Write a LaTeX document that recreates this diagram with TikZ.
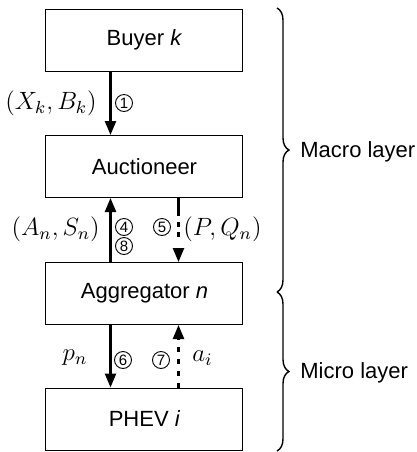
\RequirePackage{fix-cm}
\documentclass[tikz,border=0pt]{standalone}
\usepackage{fontspec}
\setsansfont{Liberation Sans}
\usetikzlibrary{arrows.meta,decorations.pathreplacing}
\tikzset{
  box/.style={draw,line width=0.5pt,minimum width=98.5pt,minimum height=31pt,inner sep=0pt,font=\sffamily\fontsize{11}{13}\selectfont},
  arr/.style={line width=1.2pt,-{Triangle[length=7pt,width=5.5pt]}},
  num/.style={circle,draw,line width=0.45pt,inner sep=0pt,minimum size=8.5pt,font=\sffamily\fontsize{7.5}{8}\selectfont},
  mlab/.style={font=\fontsize{12.5}{15}\selectfont,inner sep=0pt},
  layer/.style={font=\sffamily\fontsize{11}{13}\selectfont,anchor=west,inner sep=0pt},
  brc/.style={decorate,decoration={brace,amplitude=6pt},line width=0.7pt}
}
\begin{document}
\begin{tikzpicture}[x=0.5pt,y=-0.5pt]
\useasboundingbox (0,0) rectangle (417,452);
\node[box] (buyer) at (144.5,40) {Buyer \textit{k}};
\node[box] (auct) at (144.5,166.5) {Auctioneer};
\node[box] (agg) at (144.5,293.5) {Aggregator \textit{n}};
\node[box] (phev) at (144.5,419) {PHEV \textit{i}};

\draw[arr] ([xshift=-17pt]buyer.south) -- ([xshift=-17pt]auct.north);
\draw[arr] ([xshift=-17pt]agg.north) -- ([xshift=-17pt]auct.south);
\draw[arr,dash pattern=on 9pt off 3pt on 2.5pt off 2.5pt on 2.5pt off 20pt] ([xshift=17pt]auct.south) -- ([xshift=17pt]agg.north);
\draw[arr] ([xshift=-17pt]agg.south) -- ([xshift=-17pt]phev.north);
\draw[arr,dash pattern=on 2.5pt off 3.5pt] ([xshift=17pt]phev.north) -- ([xshift=17pt]agg.south);

\node[mlab,anchor=east] (xb) at (97,103) {$(X_k,B_k)$};
\node[num] (n1) at (124,103) {1};
\node[mlab,anchor=east] (as) at (100,229) {$(A_n,S_n)$};
\node[num] (n4) at (124,227) {4};
\node[num] (n8) at (124,246) {8};
\node[num] (n5) at (162,227) {5};
\node[mlab,anchor=west] (pq) at (183,229) {$(P,Q_n)$};
\node[mlab] (pn) at (75,358) {$p_n$};
\node[num] (n6) at (123,360) {6};
\node[num] (n7) at (161,360) {7};
\node[mlab,anchor=west] (ai) at (192,358) {$a_i$};

\draw[brc] (277,8) -- (277,292);
\draw[brc] (277,292) -- (277,451);
\node[layer] (macro) at (300,152) {Macro layer};
\node[layer] (micro) at (300,373) {Micro layer};
\end{tikzpicture}
\end{document}
